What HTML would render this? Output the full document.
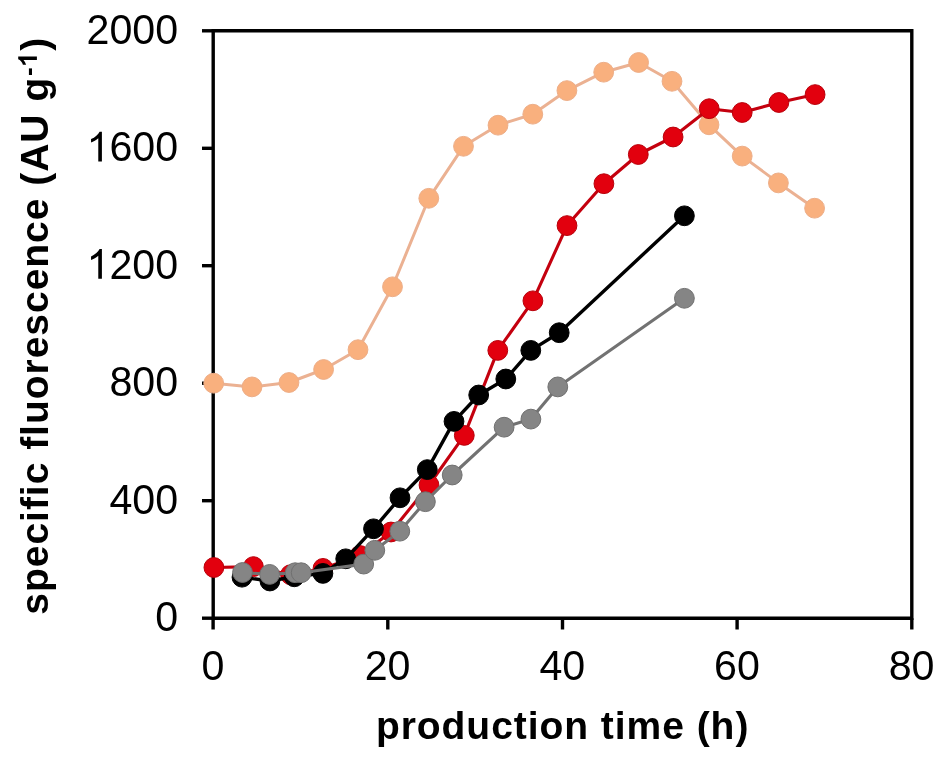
<!DOCTYPE html>
<html><head><meta charset="utf-8"><style>
html,body{margin:0;padding:0;background:#fff;}
svg{display:block;will-change:transform;}
text{-webkit-font-smoothing:antialiased;}
.g{will-change:transform;}
.tk{font-family:"Liberation Sans",sans-serif;font-size:41.2px;fill:#000;}
.ti{font-family:"Liberation Sans",sans-serif;font-size:39px;font-weight:bold;fill:#000;}
</style></head><body>
<svg width="945" height="761" viewBox="0 0 945 761">
<rect width="945" height="761" fill="#fff"/>
<path d="M213.2,618.2 V30.8 H911.8 V618.2 Z" fill="none" stroke="#000" stroke-width="3.4" stroke-linejoin="miter"/>
<line x1="202" y1="618.2" x2="213.2" y2="618.2" stroke="#000" stroke-width="3.4"/>
<g transform="translate(155.29,631.30) scale(1,1.03)"><text x="0.00" y="0" class="tk">0</text></g>
<line x1="202" y1="500.7" x2="213.2" y2="500.7" stroke="#000" stroke-width="3.4"/>
<g transform="translate(109.46,513.80) scale(1,1.03)"><text x="0.00" y="0" class="tk">4</text><text x="22.91" y="0" class="tk">0</text><text x="45.83" y="0" class="tk">0</text></g>
<line x1="202" y1="383.2" x2="213.2" y2="383.2" stroke="#000" stroke-width="3.4"/>
<g transform="translate(109.46,396.30) scale(1,1.03)"><text x="0.00" y="0" class="tk">8</text><text x="22.91" y="0" class="tk">0</text><text x="45.83" y="0" class="tk">0</text></g>
<line x1="202" y1="265.7" x2="213.2" y2="265.7" stroke="#000" stroke-width="3.4"/>
<g transform="translate(86.55,278.80) scale(1,1.03)"><path d="M763 0L583 0L583 1147Q518 1085 412 1023Q307 961 223 930L223 1104Q374 1175 487 1276Q600 1377 647 1472L763 1472Z" transform="translate(0.00,0) scale(0.02012,-0.01961)" fill="#000"/><text x="22.91" y="0" class="tk">2</text><text x="45.83" y="0" class="tk">0</text><text x="68.74" y="0" class="tk">0</text></g>
<line x1="202" y1="148.3" x2="213.2" y2="148.3" stroke="#000" stroke-width="3.4"/>
<g transform="translate(86.55,161.40) scale(1,1.03)"><path d="M763 0L583 0L583 1147Q518 1085 412 1023Q307 961 223 930L223 1104Q374 1175 487 1276Q600 1377 647 1472L763 1472Z" transform="translate(0.00,0) scale(0.02012,-0.01961)" fill="#000"/><text x="22.91" y="0" class="tk">6</text><text x="45.83" y="0" class="tk">0</text><text x="68.74" y="0" class="tk">0</text></g>
<line x1="202" y1="30.8" x2="213.2" y2="30.8" stroke="#000" stroke-width="3.4"/>
<g transform="translate(86.55,43.90) scale(1,1.03)"><text x="0.00" y="0" class="tk">2</text><text x="22.91" y="0" class="tk">0</text><text x="45.83" y="0" class="tk">0</text><text x="68.74" y="0" class="tk">0</text></g>
<line x1="213.1" y1="618.2" x2="213.1" y2="629.5" stroke="#000" stroke-width="3.4"/>
<g transform="translate(201.44,679.80) scale(1,1.03)"><text x="0.00" y="0" class="tk">0</text></g>
<line x1="387.8" y1="618.2" x2="387.8" y2="629.5" stroke="#000" stroke-width="3.4"/>
<g transform="translate(364.69,679.80) scale(1,1.03)"><text x="0.00" y="0" class="tk">2</text><text x="22.91" y="0" class="tk">0</text></g>
<line x1="562.5" y1="618.2" x2="562.5" y2="629.5" stroke="#000" stroke-width="3.4"/>
<g transform="translate(539.39,679.80) scale(1,1.03)"><text x="0.00" y="0" class="tk">4</text><text x="22.91" y="0" class="tk">0</text></g>
<line x1="737.1" y1="618.2" x2="737.1" y2="629.5" stroke="#000" stroke-width="3.4"/>
<g transform="translate(713.99,679.80) scale(1,1.03)"><text x="0.00" y="0" class="tk">6</text><text x="22.91" y="0" class="tk">0</text></g>
<line x1="911.8" y1="618.2" x2="911.8" y2="629.5" stroke="#000" stroke-width="3.4"/>
<g transform="translate(888.69,679.80) scale(1,1.03)"><text x="0.00" y="0" class="tk">8</text><text x="22.91" y="0" class="tk">0</text></g>
<polyline points="213.7,383.2 252,386.9 289,382.5 323.6,369.5 358,349.7 392.5,286.8 428.8,198.3 463.5,146.3 498,125.2 532.8,114.2 566.9,90.6 603.7,72.2 638.6,62.5 672,81.3 709,124.8 742.2,156.1 778.4,182.9 814.6,208.2" fill="none" stroke="#EBB192" stroke-width="3.0" stroke-linejoin="round"/>
<circle cx="213.7" cy="383.2" r="9.9" fill="#F9B07E" stroke="#EDAE88" stroke-width="1"/>
<circle cx="252" cy="386.9" r="9.9" fill="#F9B07E" stroke="#EDAE88" stroke-width="1"/>
<circle cx="289" cy="382.5" r="9.9" fill="#F9B07E" stroke="#EDAE88" stroke-width="1"/>
<circle cx="323.6" cy="369.5" r="9.9" fill="#F9B07E" stroke="#EDAE88" stroke-width="1"/>
<circle cx="358" cy="349.7" r="9.9" fill="#F9B07E" stroke="#EDAE88" stroke-width="1"/>
<circle cx="392.5" cy="286.8" r="9.9" fill="#F9B07E" stroke="#EDAE88" stroke-width="1"/>
<circle cx="428.8" cy="198.3" r="9.9" fill="#F9B07E" stroke="#EDAE88" stroke-width="1"/>
<circle cx="463.5" cy="146.3" r="9.9" fill="#F9B07E" stroke="#EDAE88" stroke-width="1"/>
<circle cx="498" cy="125.2" r="9.9" fill="#F9B07E" stroke="#EDAE88" stroke-width="1"/>
<circle cx="532.8" cy="114.2" r="9.9" fill="#F9B07E" stroke="#EDAE88" stroke-width="1"/>
<circle cx="566.9" cy="90.6" r="9.9" fill="#F9B07E" stroke="#EDAE88" stroke-width="1"/>
<circle cx="603.7" cy="72.2" r="9.9" fill="#F9B07E" stroke="#EDAE88" stroke-width="1"/>
<circle cx="638.6" cy="62.5" r="9.9" fill="#F9B07E" stroke="#EDAE88" stroke-width="1"/>
<circle cx="672" cy="81.3" r="9.9" fill="#F9B07E" stroke="#EDAE88" stroke-width="1"/>
<circle cx="709" cy="124.8" r="9.9" fill="#F9B07E" stroke="#EDAE88" stroke-width="1"/>
<circle cx="742.2" cy="156.1" r="9.9" fill="#F9B07E" stroke="#EDAE88" stroke-width="1"/>
<circle cx="778.4" cy="182.9" r="9.9" fill="#F9B07E" stroke="#EDAE88" stroke-width="1"/>
<circle cx="814.6" cy="208.2" r="9.9" fill="#F9B07E" stroke="#EDAE88" stroke-width="1"/>
<polyline points="213.9,567.5 253.4,566.6 290.5,574.7 323,568.4 360,555.5 391,532 429,485 464.3,435.4 497.8,350.4 532.9,300.8 567,225.6 603.9,183.7 638.3,154.5 673.1,137 709.2,108.7 742.2,112.5 778.9,102.5 815.1,94.6" fill="none" stroke="#C4000E" stroke-width="3.1" stroke-linejoin="round"/>
<circle cx="213.9" cy="567.5" r="9.9" fill="#E2000E" stroke="#B8000A" stroke-width="1"/>
<circle cx="253.4" cy="566.6" r="9.9" fill="#E2000E" stroke="#B8000A" stroke-width="1"/>
<circle cx="290.5" cy="574.7" r="9.9" fill="#E2000E" stroke="#B8000A" stroke-width="1"/>
<circle cx="323" cy="568.4" r="9.9" fill="#E2000E" stroke="#B8000A" stroke-width="1"/>
<circle cx="360" cy="555.5" r="9.9" fill="#E2000E" stroke="#B8000A" stroke-width="1"/>
<circle cx="391" cy="532" r="9.9" fill="#E2000E" stroke="#B8000A" stroke-width="1"/>
<circle cx="429" cy="485" r="9.9" fill="#E2000E" stroke="#B8000A" stroke-width="1"/>
<circle cx="464.3" cy="435.4" r="9.9" fill="#E2000E" stroke="#B8000A" stroke-width="1"/>
<circle cx="497.8" cy="350.4" r="9.9" fill="#E2000E" stroke="#B8000A" stroke-width="1"/>
<circle cx="532.9" cy="300.8" r="9.9" fill="#E2000E" stroke="#B8000A" stroke-width="1"/>
<circle cx="567" cy="225.6" r="9.9" fill="#E2000E" stroke="#B8000A" stroke-width="1"/>
<circle cx="603.9" cy="183.7" r="9.9" fill="#E2000E" stroke="#B8000A" stroke-width="1"/>
<circle cx="638.3" cy="154.5" r="9.9" fill="#E2000E" stroke="#B8000A" stroke-width="1"/>
<circle cx="673.1" cy="137" r="9.9" fill="#E2000E" stroke="#B8000A" stroke-width="1"/>
<circle cx="709.2" cy="108.7" r="9.9" fill="#E2000E" stroke="#B8000A" stroke-width="1"/>
<circle cx="742.2" cy="112.5" r="9.9" fill="#E2000E" stroke="#B8000A" stroke-width="1"/>
<circle cx="778.9" cy="102.5" r="9.9" fill="#E2000E" stroke="#B8000A" stroke-width="1"/>
<circle cx="815.1" cy="94.6" r="9.9" fill="#E2000E" stroke="#B8000A" stroke-width="1"/>
<polyline points="242,577.2 269.9,581 294.3,576.8 322.9,573.4 345.7,558.8 373.5,528.8 400,497.8 427.3,469.6 454,421.4 478.7,395 505.8,379 530.8,350.4 559.2,332.7 684.4,215.8" fill="none" stroke="#000000" stroke-width="3.4" stroke-linejoin="round"/>
<circle cx="242" cy="577.2" r="9.9" fill="#000000" stroke="#000000" stroke-width="1"/>
<circle cx="269.9" cy="581" r="9.9" fill="#000000" stroke="#000000" stroke-width="1"/>
<circle cx="294.3" cy="576.8" r="9.9" fill="#000000" stroke="#000000" stroke-width="1"/>
<circle cx="322.9" cy="573.4" r="9.9" fill="#000000" stroke="#000000" stroke-width="1"/>
<circle cx="345.7" cy="558.8" r="9.9" fill="#000000" stroke="#000000" stroke-width="1"/>
<circle cx="373.5" cy="528.8" r="9.9" fill="#000000" stroke="#000000" stroke-width="1"/>
<circle cx="400" cy="497.8" r="9.9" fill="#000000" stroke="#000000" stroke-width="1"/>
<circle cx="427.3" cy="469.6" r="9.9" fill="#000000" stroke="#000000" stroke-width="1"/>
<circle cx="454" cy="421.4" r="9.9" fill="#000000" stroke="#000000" stroke-width="1"/>
<circle cx="478.7" cy="395" r="9.9" fill="#000000" stroke="#000000" stroke-width="1"/>
<circle cx="505.8" cy="379" r="9.9" fill="#000000" stroke="#000000" stroke-width="1"/>
<circle cx="530.8" cy="350.4" r="9.9" fill="#000000" stroke="#000000" stroke-width="1"/>
<circle cx="559.2" cy="332.7" r="9.9" fill="#000000" stroke="#000000" stroke-width="1"/>
<circle cx="684.4" cy="215.8" r="9.9" fill="#000000" stroke="#000000" stroke-width="1"/>
<polyline points="242.5,572.5 269.6,574.4 295.2,572.7 301.2,572.7 363.7,564.1 374.8,550.3 399.8,531.2 425.4,501.7 452.2,475 504.1,427.2 530.9,419.1 557.8,386.9 684.4,298.3" fill="none" stroke="#727272" stroke-width="3.1" stroke-linejoin="round"/>
<circle cx="242.5" cy="572.5" r="9.9" fill="#858585" stroke="#707070" stroke-width="1"/>
<circle cx="269.6" cy="574.4" r="9.9" fill="#858585" stroke="#707070" stroke-width="1"/>
<circle cx="295.2" cy="572.7" r="9.9" fill="#858585" stroke="#707070" stroke-width="1"/>
<circle cx="301.2" cy="572.7" r="9.9" fill="#858585" stroke="#707070" stroke-width="1"/>
<circle cx="363.7" cy="564.1" r="9.9" fill="#858585" stroke="#707070" stroke-width="1"/>
<circle cx="374.8" cy="550.3" r="9.9" fill="#858585" stroke="#707070" stroke-width="1"/>
<circle cx="399.8" cy="531.2" r="9.9" fill="#858585" stroke="#707070" stroke-width="1"/>
<circle cx="425.4" cy="501.7" r="9.9" fill="#858585" stroke="#707070" stroke-width="1"/>
<circle cx="452.2" cy="475" r="9.9" fill="#858585" stroke="#707070" stroke-width="1"/>
<circle cx="504.1" cy="427.2" r="9.9" fill="#858585" stroke="#707070" stroke-width="1"/>
<circle cx="530.9" cy="419.1" r="9.9" fill="#858585" stroke="#707070" stroke-width="1"/>
<circle cx="557.8" cy="386.9" r="9.9" fill="#858585" stroke="#707070" stroke-width="1"/>
<circle cx="684.4" cy="298.3" r="9.9" fill="#858585" stroke="#707070" stroke-width="1"/>
<text x="375.9" y="739.1" class="ti" textLength="372.5" lengthAdjust="spacing">production time (h)</text>
<g transform="translate(48.4,614.7) rotate(-90)">
<text x="0" y="0" class="ti" textLength="500.2" lengthAdjust="spacing">specific fluorescence (AU</text>
<text x="513.1" y="0" class="ti">g</text>
<text x="538.7" y="-11.5" class="ti" style="font-size:26px">-</text>
<path d="M861 0L580 0L580 1059Q426 915 214 847L214 1102Q326 1138 455 1239Q584 1340 632 1472L861 1472Z" transform="translate(547.3,-11.5) scale(0.01270,-0.01270)" fill="#000"/>
<text x="564" y="0" class="ti">)</text>
</g>
</svg>
</body></html>
